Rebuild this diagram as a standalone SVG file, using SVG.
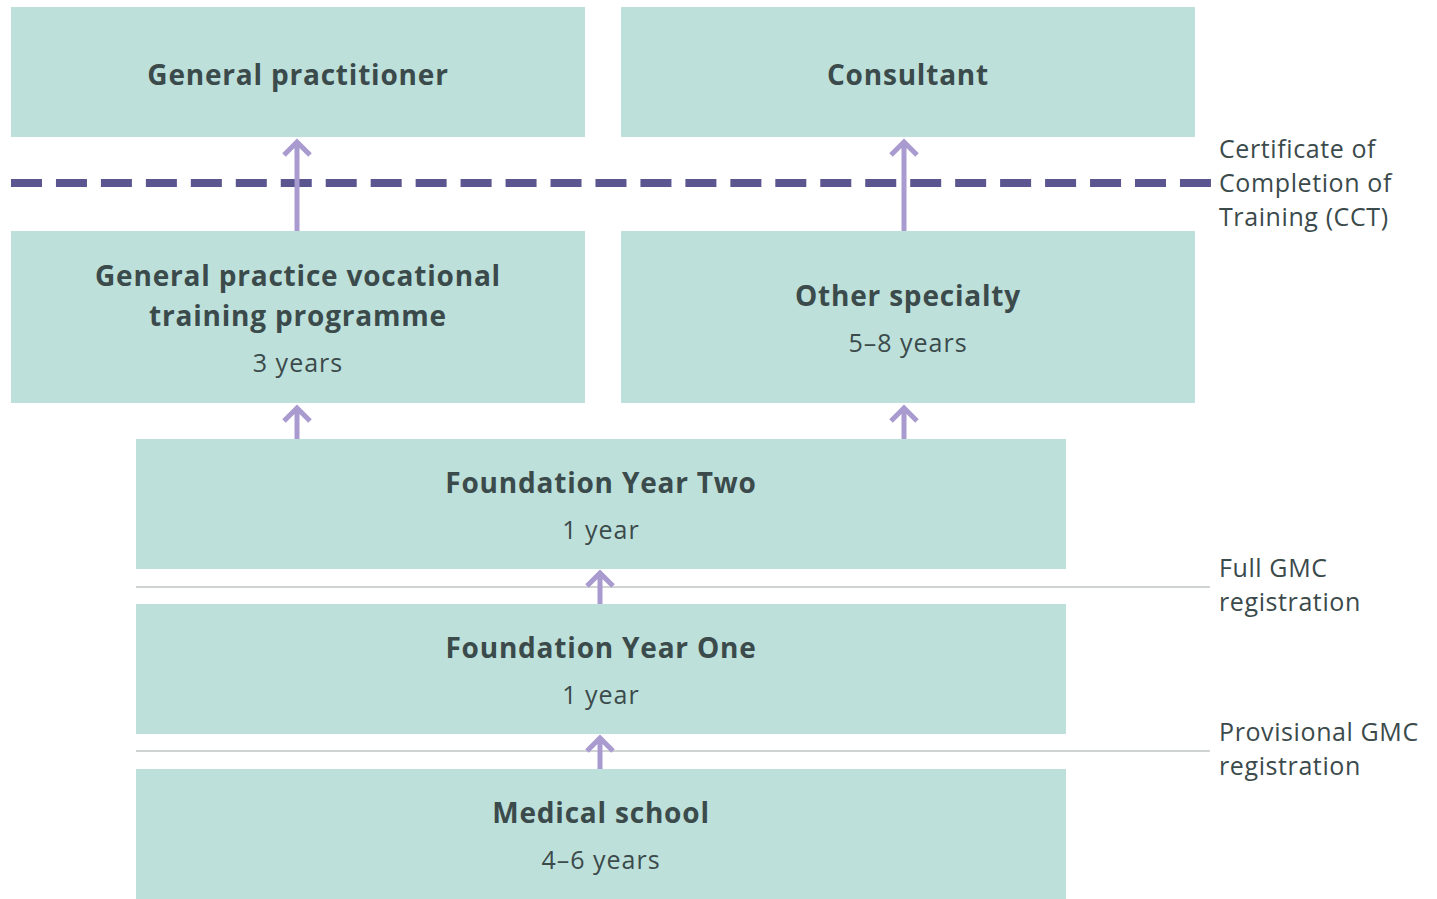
<svg xmlns="http://www.w3.org/2000/svg" width="1437" height="899" viewBox="0 0 1437 899">
<style>
.box{fill:#bde0da}
.t{font-family:"Open Sans","Liberation Sans",Arial,sans-serif;fill:#3b4a4b;text-anchor:middle}
.b{font-weight:bold;font-size:28px;letter-spacing:0.8px}
.r{font-size:25px;letter-spacing:1px}
.side{font-family:"Open Sans","Liberation Sans",Arial,sans-serif;fill:#3b4a4b;font-size:25px;letter-spacing:0.6px}
.arr{stroke:#a99bd0;stroke-width:5;fill:none}
</style>
<rect width="1437" height="899" fill="#ffffff"/>
<g id="connectors">
<line x1="11" y1="183" x2="1211" y2="183" stroke="#5b5590" stroke-width="8" stroke-dasharray="31,13.96"/>
<line x1="136" y1="587" x2="1210" y2="587" stroke="#cfd3d3" stroke-width="2"/>
<line x1="136" y1="751" x2="1210" y2="751" stroke="#cfd3d3" stroke-width="2"/>
<g class="arr">
<path d="M297 231V142M284 155L297 142L310 155"/>
<path d="M904 231V142M891 155L904 142L917 155"/>
<path d="M297 439V408M284 421L297 408L310 421"/>
<path d="M904 439V408M891 421L904 408L917 421"/>
<path d="M600 604V573M587 586L600 573L613 586"/>
<path d="M600 769V738M587 751L600 738L613 751"/>
</g>
</g>
<g id="gp"><rect class="box" x="11" y="7" width="574" height="130"/><text class="t b" x="298" y="85">General practitioner</text></g>
<g id="consultant"><rect class="box" x="621" y="7" width="574" height="130"/><text class="t b" x="908" y="85">Consultant</text></g>
<g id="gpvtp"><rect class="box" x="11" y="231" width="574" height="172"/><text class="t b" x="298" y="286">General practice vocational</text><text class="t b" x="298" y="326">training programme</text><text class="t r" x="298" y="372">3 years</text></g>
<g id="other"><rect class="box" x="621" y="231" width="574" height="172"/><text class="t b" x="908" y="306">Other specialty</text><text class="t r" x="908" y="352">5–8 years</text></g>
<g id="fy2"><rect class="box" x="136" y="439" width="930" height="130"/><text class="t b" x="601" y="493">Foundation Year Two</text><text class="t r" x="601" y="539">1 year</text></g>
<g id="fy1"><rect class="box" x="136" y="604" width="930" height="130"/><text class="t b" x="601" y="658">Foundation Year One</text><text class="t r" x="601" y="704">1 year</text></g>
<g id="med"><rect class="box" x="136" y="769" width="930" height="130"/><text class="t b" x="601" y="823">Medical school</text><text class="t r" x="601" y="869">4–6 years</text></g>
<g id="labels">
<text class="side" x="1219" y="158">Certificate of</text>
<text class="side" x="1219" y="192">Completion of</text>
<text class="side" x="1219" y="226">Training (CCT)</text>
<text class="side" x="1219" y="577">Full GMC</text>
<text class="side" x="1219" y="611">registration</text>
<text class="side" x="1219" y="741">Provisional GMC</text>
<text class="side" x="1219" y="775">registration</text>
</g>
</svg>
